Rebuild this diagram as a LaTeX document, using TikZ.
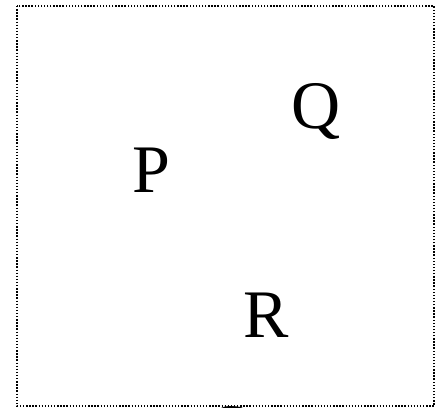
\documentclass[tikz,border=0pt]{standalone}
\usepackage{fontspec}
\setmainfont{Liberation Serif}
\tikzset{letter/.style={inner sep=0pt,anchor=base,font=\fontsize{68}{68}\selectfont}}
\begin{document}
\begin{tikzpicture}[x=1pt,y=-1pt]
\useasboundingbox (0,0) rectangle (441,407);
\clip (0,0) rectangle (441,407);
\draw[line width=1.3pt,dash pattern=on 1.4pt off 1.7pt] (17,6) rectangle (434,406);
\node[letter] (p) at (151,192) {P};
\node[letter] (q) at (316,128) {Q};
\node[letter] (r) at (266,337) {R};
\node[letter] (s) at (230,451) {S};
\end{tikzpicture}
\end{document}
